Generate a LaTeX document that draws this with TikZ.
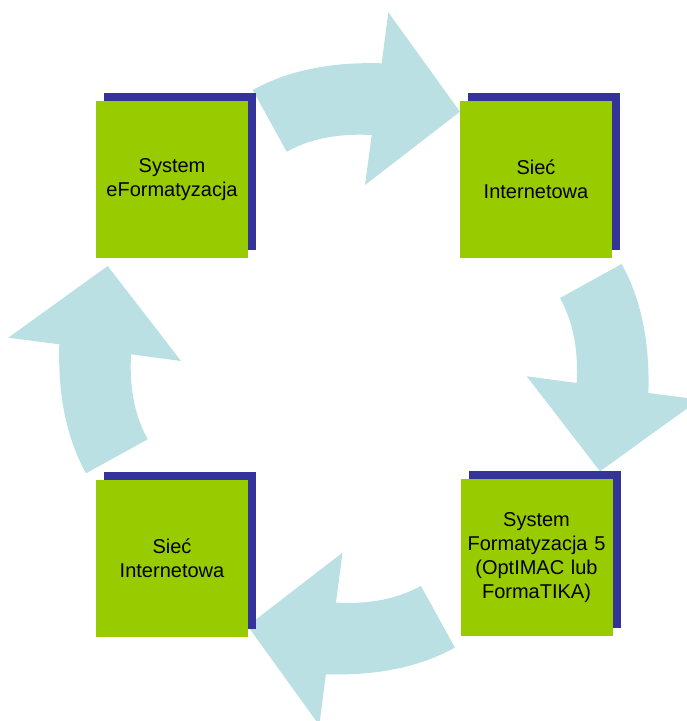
\documentclass[tikz,border=0pt]{standalone}
\usepackage{fontspec}
\setmainfont{Liberation Sans}
\usetikzlibrary{shadows}
\definecolor{boxgreen}{RGB}{153,204,0}
\definecolor{boxblue}{RGB}{51,51,153}
\definecolor{arrowblue}{RGB}{187,224,227}
% one curved block arrow of the cycle, drawn at the top
\newcommand\cyclearrow[1]{\fill[arrowblue,#1] (252.7,90) .. controls (292.1,68.3) and (336.7,62) .. (381.7,63.3)
  -- (388.3,12.3) -- (460,111.7) -- (365,185) -- (371.7,135)
  .. controls (341.7,133.5) and (313,137.2) .. (286.7,151.7) -- cycle;}
\begin{document}
\begin{tikzpicture}[x=1pt,y=-1pt,
  box/.style={fill=boxgreen,minimum width=152pt,minimum height=157pt,inner sep=0pt,
    text width=148pt,align=center,font=\fontsize{20}{24}\selectfont,
    drop shadow={shadow xshift=8pt,shadow yshift=8pt,fill=boxblue,opacity=1}}]
\useasboundingbox (0,0) rectangle (687,721);
\clip (0,0) rectangle (687,721);
\cyclearrow{}
\cyclearrow{rotate around={-90:(350.2,361.5)}}
\cyclearrow{rotate around={180:(353.8,368.8)}}
\cyclearrow{rotate around={90:(361,365)}}
\node[box] (sysE) at (172,179.3) {System\\eFormatyzacja};
\node[box] (siecA) at (536,179.3) {Sieć\\Internetowa};
\node[box] (sysF) at (536.5,557.8) {System\\Formatyzacja 5\\(OptIMAC lub\\FormaTIKA)};
\node[box] (siecB) at (172,558) {Sieć\\Internetowa};
\end{tikzpicture}
\end{document}
